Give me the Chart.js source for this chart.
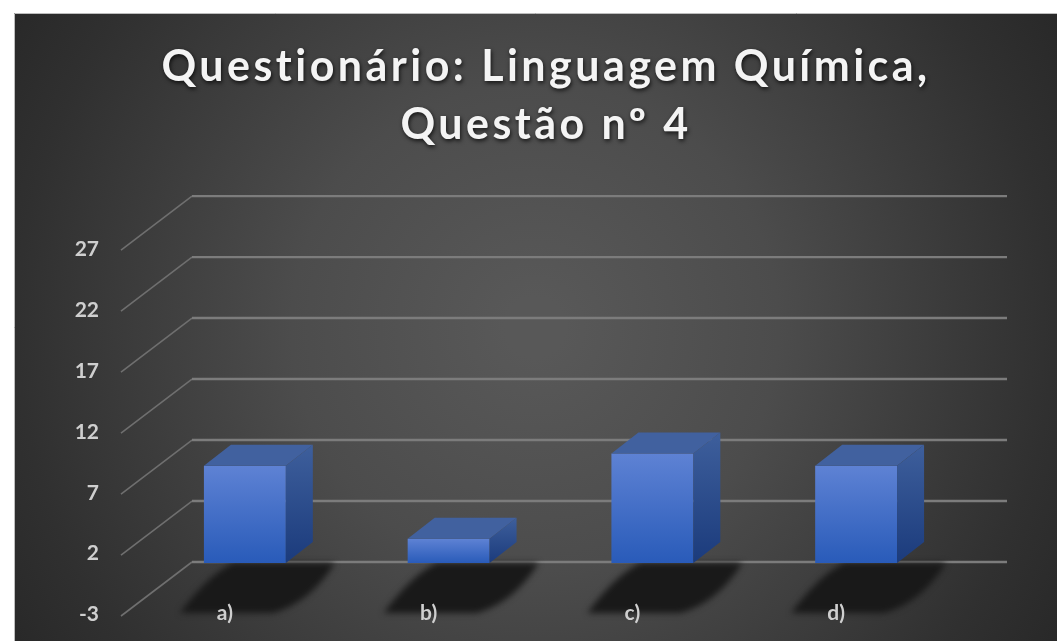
<!DOCTYPE html>
<html>
<head>
<meta charset="utf-8">
<style>html,body{margin:0;padding:0;background:#fff}canvas{display:block;filter:blur(0.6px)}</style>
<script src="https://cdn.jsdelivr.net/npm/chart.js@4"></script>
</head>
<body>
<canvas id="c" width="1057" height="641"></canvas>
<script>
const categories = ['a)', 'b)', 'c)', 'd)'];
const values = [8, 2, 9, 8];
const tickValues = [-3, 2, 7, 12, 17, 22, 27];
const titleLines = ['Questionário: Linguagem Química,', 'Questão nº 4'];

const FONT = 'Lato, "Open Sans", sans-serif';
const DEPTH_X = 27, DEPTH_Y = 21;      // bar depth
const WALL_X = 71, WALL_Y = 54;        // floor depth

function vGrad(ctx, top, bottom, c1, c2) {
  const g = ctx.createLinearGradient(0, top, 0, bottom);
  g.addColorStop(0, c1); g.addColorStop(1, c2);
  return g;
}

const scene = {
  id: 'scene',
  afterLayout(chart) {
    const t = chart.titleBlock;
    if (t && !t._wrapped) {
      const orig = t.draw.bind(t);
      t.draw = function () {
        const c = chart.ctx;
        c.save();
        c.translate(37, 0);
        c.letterSpacing = '3.45px';
        c.shadowColor = 'rgba(0,0,0,0.75)';
        c.shadowBlur = 4; c.shadowOffsetX = 1; c.shadowOffsetY = 2;
        orig();
        c.restore();
      };
      t._wrapped = true;
    }
  },
  beforeDraw(chart) {
    const c = chart.ctx, W = chart.width, H = chart.height;
    const area = chart.chartArea, wall = chart.scales.yWall;
    c.save();
    c.fillStyle = '#fff';
    c.fillRect(0, 0, W, H);
    const g = c.createRadialGradient(535, 327, 30, 535, 327, 640);
    g.addColorStop(0, '#585858');
    g.addColorStop(0.35, '#4c4c4c');
    g.addColorStop(0.8, '#303030');
    g.addColorStop(1, '#262626');
    c.fillStyle = g;
    c.fillRect(14, 13, W - 14, H - 13);
    c.strokeStyle = '#bdbdbd';
    c.lineWidth = 1;
    c.beginPath();
    c.moveTo(14.5, H); c.lineTo(14.5, 13.5); c.lineTo(W, 13.5);
    c.stroke();

    // gridlines on wall and floor side
    const backX = area.left + 49, frontX = backX - WALL_X, endX = 1007;
    tickValues.forEach(v => {
      const y = wall.getPixelForValue(v);
      c.strokeStyle = '#6f6f6f';
      c.lineWidth = 1.6;
      c.beginPath();
      c.moveTo(frontX, y + WALL_Y); c.lineTo(backX, y);
      c.stroke();
      c.strokeStyle = '#7c7c7c';
      c.lineWidth = 2.4;
      c.beginPath();
      c.moveTo(backX, y); c.lineTo(endX, y);
      c.stroke();
    });

    // floor shadows
    const floorBack = wall.getPixelForValue(-3) + 1;
    const floorFront = floorBack + 50;
    c.fillStyle = '#191919';
    c.filter = 'blur(3px)';
    chart.getDatasetMeta(0).data.forEach(b => {
      const l = b.x - b.width / 2, r = b.x + b.width / 2;
      c.beginPath();
      c.moveTo(l + 29, floorBack);
      c.lineTo(r + 49, floorBack);
      c.quadraticCurveTo(r + 24, floorFront - 10, r - 13, floorFront);
      c.lineTo(l - 24, floorFront);
      c.quadraticCurveTo(l + 4, floorBack + 12, l + 29, floorBack);
      c.closePath();
      c.fill();
    });
    c.restore();
  },
  afterDatasetsDraw(chart) {
    const c = chart.ctx;
    c.save();
    chart.getDatasetMeta(0).data.forEach(b => {
      const l = b.x - b.width / 2, r = b.x + b.width / 2, t = b.y, bt = b.base;
      c.fillStyle = '#41619f';
      c.beginPath();
      c.moveTo(l, t); c.lineTo(l + DEPTH_X, t - DEPTH_Y);
      c.lineTo(r + DEPTH_X, t - DEPTH_Y); c.lineTo(r, t);
      c.closePath(); c.fill();
      c.fillStyle = vGrad(c, t - DEPTH_Y, bt, '#3e5f9c', '#1b3b7c');
      c.beginPath();
      c.moveTo(r, t); c.lineTo(r + DEPTH_X, t - DEPTH_Y);
      c.lineTo(r + DEPTH_X, bt - DEPTH_Y); c.lineTo(r, bt);
      c.closePath(); c.fill();
    });
    c.restore();
  }
};

new Chart(document.getElementById('c'), {
  type: 'bar',
  data: {
    labels: categories,
    datasets: [{
      data: values,
      yAxisID: 'yBar',
      barPercentage: 0.402,
      categoryPercentage: 1,
      borderWidth: 0,
      backgroundColor(ctx) {
        const s = ctx.chart.scales.yBar;
        if (!s || ctx.raw === undefined) return '#3a68c4';
        const top = s.getPixelForValue(ctx.raw), bottom = s.getPixelForValue(0);
        if (!isFinite(top) || !isFinite(bottom)) return '#3a68c4';
        return vGrad(ctx.chart.ctx, top, bottom, '#5e82d4', '#295bb9');
      }
    }]
  },
  plugins: [scene],
  options: {
    responsive: false,
    animation: false,
    layout: { padding: { left: 60, right: 99, top: 0, bottom: 0 }, autoPadding: false },
    plugins: {
      legend: { display: false },
      tooltip: { enabled: false },
      title: {
        display: true,
        text: titleLines,
        color: '#f4f4f4',
        font: { family: FONT, size: 43, weight: 'bold', lineHeight: 1.35 },
        padding: { top: 38, bottom: 42 }
      }
    },
    scales: {
      x: {
        type: 'category',
        grid: { display: false, drawTicks: false },
        border: { display: false },
        ticks: { color: '#cfcfcf', font: { family: FONT, size: 21, weight: 'bold' }, padding: 16, labelOffset: -20, maxRotation: 0, autoSkip: false },
        afterFit(s) { s.height = 46; }
      },
      y: {
        position: 'left',
        min: -0.527, max: 31.39,
        grid: { display: false, drawTicks: false },
        border: { display: false },
        ticks: { color: '#cfcfcf', font: { family: FONT, size: 21, weight: 'bold' }, padding: 44, autoSkip: false },
        afterBuildTicks(s) { s.ticks = tickValues.map(v => ({ value: v })); },
        afterFit(s) { s.width = 83; }
      },
      yBar: { display: false, min: -1.754, max: 30.15 },
      yWall: { display: false, min: -4.836, max: 27 }
    }
  }
});
</script>
</body>
</html>
